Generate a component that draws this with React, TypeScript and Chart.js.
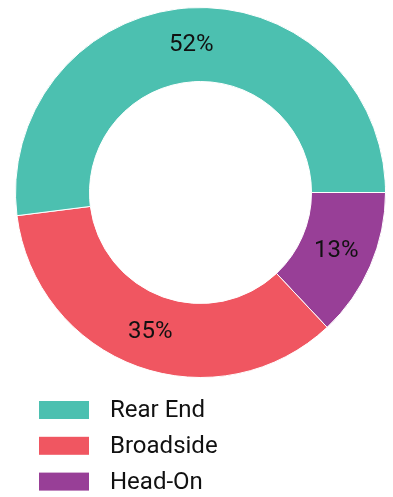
import React, { useEffect, useRef } from "react";
import { Chart, registerables } from "chart.js";

Chart.register(...registerables);

const categories = ["Rear End", "Broadside", "Head-On"];
const values = [52, 35, 13];
const colors = ["#4cc0b0", "#f05661", "#983f97"];

const FONT = "Roboto, 'Noto Sans', sans-serif";

const labelPlugin = {
  id: "arcLabels",
  afterDatasetsDraw(chart: any) {
    const ctx = chart.ctx;
    const meta = chart.getDatasetMeta(0);
    const data = chart.data.datasets[0].data as number[];
    const total = data.reduce((a: number, b: number) => a + b, 0);
    ctx.save();
    ctx.font = `24px ${FONT}`;
    ctx.fillStyle = "#111";
    ctx.textAlign = "center";
    ctx.textBaseline = "middle";
    meta.data.forEach((arc: any, i: number) => {
      const p = arc.tooltipPosition();
      ctx.fillText(Math.round((data[i] / total) * 100) + "%", p.x, p.y);
    });
    ctx.restore();
  },
  afterDraw(chart: any) {
    const ctx = chart.ctx;
    ctx.save();
    ctx.font = `24px ${FONT}`;
    ctx.textBaseline = "middle";
    ctx.textAlign = "left";
    categories.forEach((c, i) => {
      const cy = 410 + i * 35.8;
      ctx.fillStyle = colors[i];
      ctx.fillRect(39, cy - 9, 50, 18);
      ctx.fillStyle = "#111";
      ctx.fillText(c, 110, cy + 1);
    });
    ctx.restore();
  },
};

export default function App() {
  const ref = useRef<HTMLCanvasElement>(null);
  useEffect(() => {
    if (!ref.current) return;
    const order = [2, 1, 0];
    const chart = new Chart(ref.current, {
      type: "doughnut",
      data: {
        labels: order.map((i) => categories[i]),
        datasets: [
          {
            data: order.map((i) => values[i]),
            backgroundColor: order.map((i) => colors[i]),
            borderColor: "#ffffff",
            borderWidth: 1,
          },
        ],
      },
      options: {
        responsive: false,
        animation: false,
        rotation: 90,
        cutout: "60%",
        layout: { padding: { left: 15, right: 7, top: 7, bottom: 119 } },
        plugins: { legend: { display: false }, tooltip: { enabled: false } },
      },
      plugins: [labelPlugin],
    });
    return () => chart.destroy();
  }, []);
  return (
    <div style={{ position: "fixed", left: 0, top: 0, width: 393, height: 497, background: "#fff" }}>
      <canvas ref={ref} width={393} height={497} />
    </div>
  );
}
